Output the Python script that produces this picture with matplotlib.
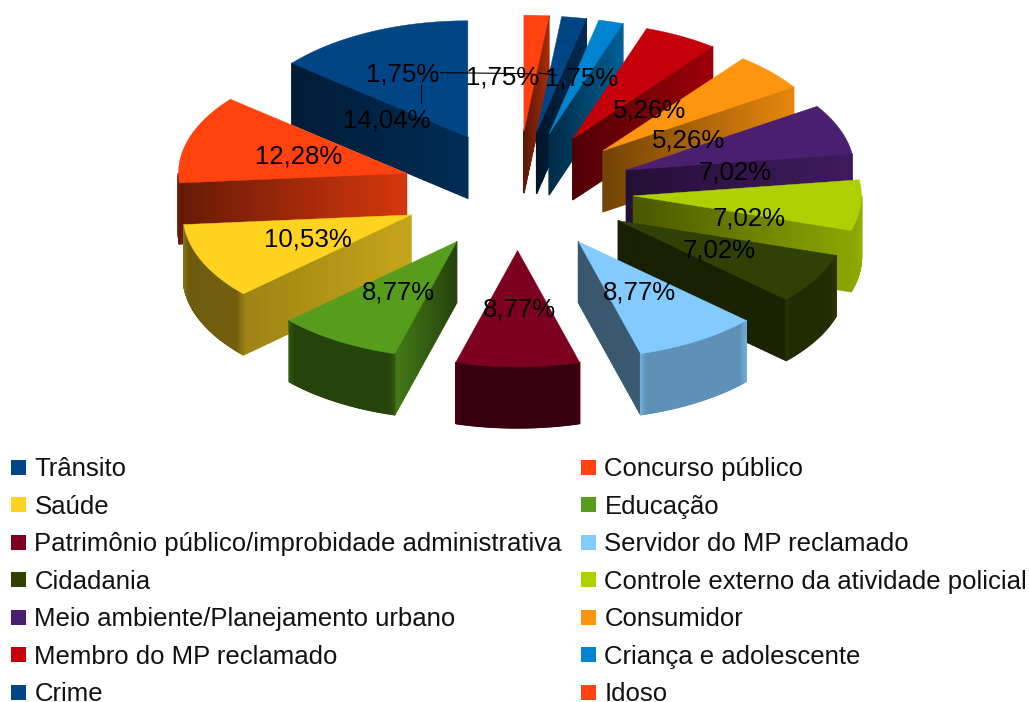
import numpy as np
import matplotlib
matplotlib.use('Agg')
import matplotlib.pyplot as plt
from matplotlib.collections import PolyCollection
from matplotlib.patches import Rectangle

# *****************************************************************************

CATEGORIES = ['Trânsito', 'Concurso público', 'Saúde', 'Educação',
              'Patrimônio público/improbidade administrativa',
              'Servidor do MP reclamado', 'Cidadania',
              'Controle externo da atividade policial',
              'Meio ambiente/Planejamento urbano', 'Consumidor',
              'Membro do MP reclamado', 'Criança e adolescente',
              'Crime', 'Idoso']
VALUES = [14.04, 12.28, 10.53, 8.77, 8.77, 8.77, 7.02,
          7.02, 7.02, 5.26, 5.26, 1.75, 1.75, 1.75]
COLORS = ['#004586', '#ff420e', '#ffd320', '#579d1c', '#7e0021', '#83caff',
          '#314004', '#aecf00', '#4b1f6f', '#ff950e', '#c5000b', '#0084d1',
          '#004586', '#ff420e']

# brightness of the visible straight side (left end, right end)
SIDE_SHADE = [(0.40, 0.65), (0.40, 0.84), (0.62, 0.78), (0.78, 0.42),
              (0.45, 0.45), (0.43, 0.45), (0.48, 0.55), (0.42, 0.80),
              (0.48, 0.85), (0.45, 0.90), (0.40, 0.80), (0.32, 0.72),
              (0.30, 0.62), (0.35, 0.65)]
# brightness of the curved side (start angle, end angle)
ARC_SHADE = [(0.4, 0.4), (0.4, 0.4), (0.42, 0.45), (0.43, 0.43),
             (0.44, 0.44), (0.72, 0.72), (0.68, 0.68), (0.80, 0.85),
             (0.8, 0.8), (0.8, 0.8), (0.8, 0.8), (0.8, 0.8),
             (0.8, 0.8), (0.8, 0.8)]
# labels pushed off their slice by the overlap handling, pixels
LABEL_NUDGE = {0: (-34, 35), 7: (0, 17), 8: (0, 22), 9: (0, 28), 10: (21, 22),
               12: (-54, 1), 13: (-129, 0)}
LEADER_END = {0: (34, -17), 12: (36, -3), 13: (38, -1)}

CX, CY = 517.5, 191
RX, RY = 228, 116.5
LABEL_CX, LABEL_CY = 519, 192
LABEL_RX, LABEL_RY = 230.5, 117.5
EXPLODE = 0.51
DEPTH = 61
BEVEL_PX = 6.0
FONT_PX = 25.9
LEG_FONT_PX = 25.8

# *****************************************************************************


def shade(col, val):
    return tuple(np.clip(np.array(matplotlib.colors.to_rgb(col))*val, 0, 1))


def rim(t, ox=0.0, oy=0.0):
    return (ox+RX*np.cos(t), oy-RY*np.sin(t))


def add_strips(vrt, fcs, zord, axs):
    # wide edges so that no seam shows between the quads
    axs.add_collection(PolyCollection(vrt, facecolors=fcs, edgecolors=fcs,
                                      linewidths=1.0, zorder=zord))


def side_strips(p0, p1, col, sh, zord, axs):
    # straight side, split in thin quads for the gradient
    xleft = min(p0[0], p1[0])
    xright = max(p0[0], p1[0])
    fr = np.linspace(0, 1, 41)
    vrt = []
    fcs = []
    for k1 in range(fr.shape[0]-1):
        a = (p0[0]+(p1[0]-p0[0])*fr[k1], p0[1]+(p1[1]-p0[1])*fr[k1])
        b = (p0[0]+(p1[0]-p0[0])*fr[k1+1], p0[1]+(p1[1]-p0[1])*fr[k1+1])
        vrt.append([a, b, (b[0], b[1]+DEPTH), (a[0], a[1]+DEPTH)])
        xmid = 0.5*(a[0]+b[0])
        pos = (xmid-xleft)/max(xright-xleft, 1e-6)
        fcs.append(shade(col, sh[0]+(sh[1]-sh[0])*pos))
    add_strips(vrt, fcs, zord, axs)


def arc_strips(ox, oy, t1, t2, col, sh, zord, axs):
    tvec = np.linspace(t1, t2, 121)
    xend1 = rim(t1, ox, oy)[0]
    xend2 = rim(t2, ox, oy)[0]
    # only the fully frontal curved sides show the soft corner
    lower = (np.sin(t1) < 0) and (np.sin(t2) < 0)
    vrt = []
    fcs = []
    for k1 in range(tvec.shape[0]-1):
        if np.sin(0.5*(tvec[k1]+tvec[k1+1])) >= 0:
            continue
        a = rim(tvec[k1], ox, oy)
        b = rim(tvec[k1+1], ox, oy)
        vrt.append([a, b, (b[0], b[1]+DEPTH), (a[0], a[1]+DEPTH)])
        val = sh[0]+(sh[1]-sh[0])*k1/120.0
        if lower:
            dist = min(abs(a[0]-xend1), abs(a[0]-xend2))
            val = val + 0.14*max(0.0, 1.0-dist/BEVEL_PX)
        fcs.append(shade(col, val))
    if vrt:
        add_strips(vrt, fcs, zord, axs)


def make_fig():

    plt.rcParams['font.family'] = ['Liberation Sans', 'DejaVu Sans']

    fig01 = plt.figure(figsize=(10.29, 7.02), dpi=100)
    axs01 = fig01.add_axes([0, 0, 1, 1])
    axs01.set_xlim(0, 1029)
    axs01.set_ylim(702, 0)
    axs01.axis('off')

    vals = np.array(VALUES)
    edges = np.pi/2 + 2*np.pi*np.cumsum(np.append(0, vals))/vals.sum()

    # Painter's order, back slices first
    mids = 0.5*(edges[:-1]+edges[1:])
    order = np.argsort(-np.sin(mids))

    zord = 2
    for k1 in order:
        t1, t2, tm = edges[k1], edges[k1+1], mids[k1]
        ox = CX + EXPLODE*RX*np.cos(tm)
        oy = CY - EXPLODE*RY*np.sin(tm)
        col = COLORS[k1]

        if np.cos(t1) > 1e-6:
            side_strips((ox, oy), rim(t1, ox, oy), col, SIDE_SHADE[k1],
                        zord, axs01)
        if np.cos(t2) < -1e-6:
            side_strips((ox, oy), rim(t2, ox, oy), col, SIDE_SHADE[k1],
                        zord, axs01)
        arc_strips(ox, oy, t1, t2, col, ARC_SHADE[k1], zord+0.1, axs01)

        tvec = np.linspace(t1, t2, 61)
        xtop, ytop = rim(tvec, ox, oy)
        axs01.fill(np.append(ox, xtop), np.append(oy, ytop), facecolor=col,
                   edgecolor=col, linewidth=0.3, zorder=zord+0.2)
        zord += 1

    # Percent labels sit on the rim of the closed pie
    for k1 in range(len(VALUES)):
        xrim = LABEL_CX + LABEL_RX*np.cos(mids[k1])
        yrim = LABEL_CY - LABEL_RY*np.sin(mids[k1])
        dx, dy = LABEL_NUDGE.get(k1, (0, 0))
        axs01.text(xrim+dx, yrim+dy,
                   '{:.2f}%'.format(VALUES[k1]).replace('.', ','),
                   fontsize=FONT_PX*0.72, ha='center', va='center',
                   color='black', zorder=100)
        if k1 in LEADER_END:
            ex, ey = LEADER_END[k1]
            axs01.plot([xrim, xrim+dx+ex], [yrim-1, yrim+dy+ey-1],
                       color='black', linewidth=0.8, zorder=99)

    # Legend, two columns
    for k1 in range(len(CATEGORIES)):
        col_x = 11 if k1 % 2 == 0 else 581
        row_base = 476.3 + (k1//2)*37.45
        axs01.add_patch(Rectangle((col_x, row_base-16.5), 15, 15,
                                  facecolor=COLORS[k1], edgecolor='none'))
        axs01.text(col_x+23.5, row_base, CATEGORIES[k1],
                   fontsize=LEG_FONT_PX*0.72, ha='left', va='baseline',
                   color='#111111')

    fig01.savefig('out.png', dpi=100)
    plt.close()

    return None

# *****************************************************************************


if (__name__ == "__main__"):

    make_fig()

# *****************************************************************************
